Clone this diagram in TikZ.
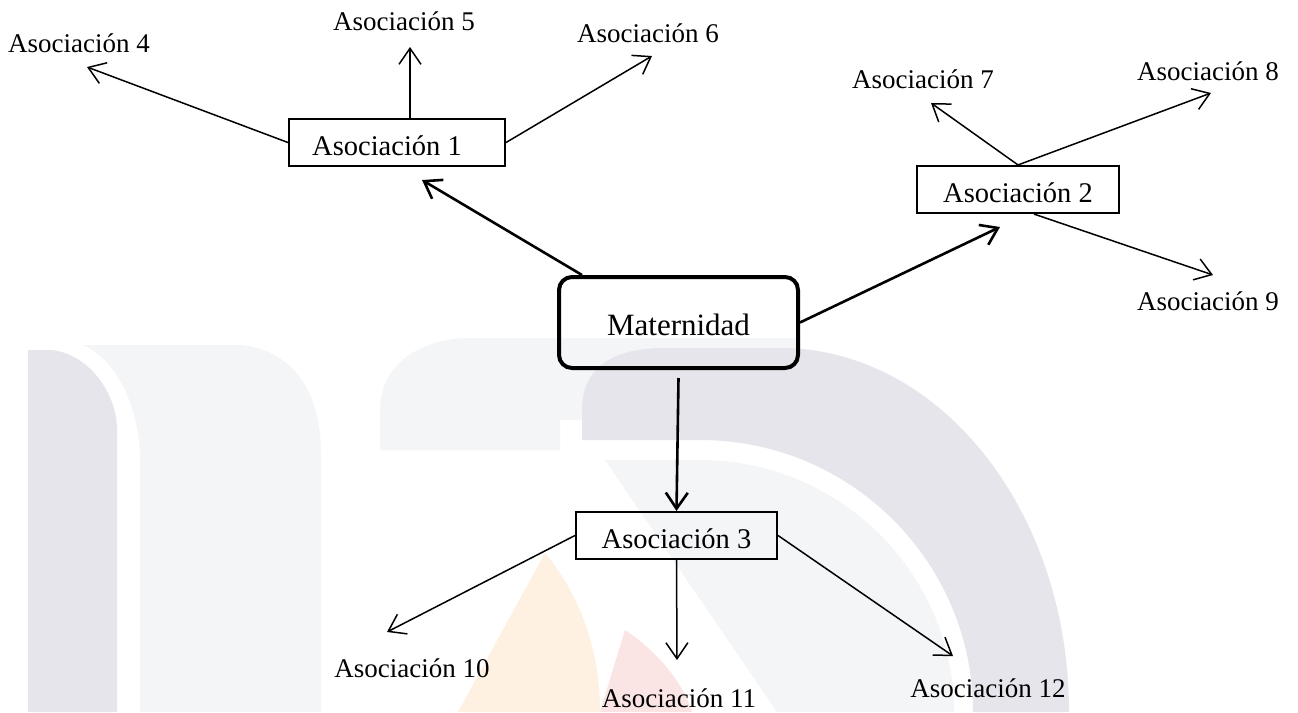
\documentclass[tikz,border=0pt]{standalone}
\usepackage{fontspec}
\setmainfont{Liberation Serif}
\usetikzlibrary{arrows.meta,calc}
\definecolor{wmdark}{RGB}{229,229,235}
\definecolor{wmlight}{RGB}{244,245,247}
\definecolor{wmorange}{RGB}{254,241,226}
\definecolor{wmpink}{RGB}{250,228,228}
\begin{document}
\begin{tikzpicture}[x=1pt,y=-1pt,
  lbl/.style={anchor=base,inner sep=0pt,font=\fontsize{27}{32}\selectfont},
  abox/.style={draw,line width=1.6pt,inner sep=0pt,minimum height=47.5pt,text height=26pt,text depth=0pt,font=\fontsize{28.5}{32}\selectfont},
  mbox/.style={draw,line width=4pt,rounded corners=13pt,inner sep=0pt,minimum width=239pt,minimum height=91pt,text height=25pt,text depth=0pt,font=\fontsize{31}{36}\selectfont},
  thinarrow/.style={line width=1.5pt,-{Straight Barb[length=16pt,width=22pt]}},
  thickarrow/.style={line width=2.6pt,-{Straight Barb[length=16pt,width=22pt]}}]
\useasboundingbox (0,0) rectangle (1298,712);
\fill[white] (0,0) rectangle (1298,712);
% watermark
\fill[wmdark] (28,350) -- (50,350) .. controls (85,352) and (117,390) .. (117,430) -- (117,712) -- (28,712) -- cycle;
\fill[wmlight] (83,345) -- (240,345) .. controls (295,350) and (321,395) .. (321,453) -- (321,712) -- (140,712) -- (140,453) .. controls (137,400) and (115,360) .. (83,345) -- cycle;
\fill[wmlight] (380,450) -- (380,410) .. controls (380,365) and (420,338) .. (470,338) -- (800,338) -- (800,420) -- (560,420) -- (560,450) -- cycle;
\fill[wmdark] (582,440) -- (582,410) .. controls (582,366) and (615,348) .. (664,348) -- (780,348) .. controls (940,348) and (1069,511) .. (1069,712) -- (973,712) .. controls (973,562) and (851,440) .. (700,440) -- cycle;
\fill[wmlight] (605,460) -- (700,460) .. controls (840,460) and (954,574) .. (954,712) -- (777,712) -- cycle;
\fill[wmorange] (545,553) -- (458,712) -- (600,712) .. controls (600,650) and (580,595) .. (545,553) -- cycle;
\fill[wmpink] (625,630) -- (600,712) -- (692,712) .. controls (682,680) and (655,650) .. (625,630) -- cycle;
% main nodes
\node[mbox] (mat) at (678.5,322.5) {Maternidad};
\node[abox,minimum width=216.5pt] (a1) at (397,142.5) {\kern-20pt Asociación 1};
\node[abox,minimum width=202.5pt] (a2) at (1018,189.5) {Asociación 2};
\node[abox,minimum width=201.5pt] (a3) at (676.5,535.5) {Asociación 3};
% labels
\node[lbl] (l4) at (79,52) {Asociación 4};
\node[lbl] (l5) at (404,30) {Asociación 5};
\node[lbl] (l6) at (648,42) {Asociación 6};
\node[lbl] (l7) at (923,88) {Asociación 7};
\node[lbl] (l8) at (1208,80) {Asociación 8};
\node[lbl] (l9) at (1208,310) {Asociación 9};
\node[lbl] (l10) at (412,677) {Asociación 10};
\node[lbl] (l11) at (679,707) {Asociación 11};
\node[lbl] (l12) at (988,697) {Asociación 12};
% arrow tips
\coordinate (t1) at (422,180);
\coordinate (t2) at (1000,227);
\coordinate (t4) at (87,67);
\coordinate (t5) at (410,47);
\coordinate (t6) at (652,56);
\coordinate (t7) at (931,103);
\coordinate (t8) at (1211,93);
\coordinate (t9) at (1213,275);
\coordinate (t10) at (387,632);
\coordinate (t11) at (677,660);
\coordinate (t12) at (953,656);
% connectors
\draw[thickarrow] ([xshift=25pt]mat.north west) -- (t1);
\draw[thickarrow] (mat.east) -- (t2);
\draw[thickarrow] ([yshift=-8pt]mat.south) -- (a3.north);
\draw[thinarrow] (a1.west) -- (t4);
\draw[thinarrow] (a1.north -| t5) -- (t5);
\draw[thinarrow] (a1.east) -- (t6);
\draw[thinarrow] (a2.north) -- (t7);
\draw[thinarrow] (a2.north) -- (t8);
\draw[thinarrow] ([xshift=16pt]a2.south) -- (t9);
\draw[thinarrow] (a3.west) -- (t10);
\draw[thinarrow] (a3.south) -- (t11);
\draw[thinarrow] (a3.east) -- (t12);
\end{tikzpicture}
\end{document}
